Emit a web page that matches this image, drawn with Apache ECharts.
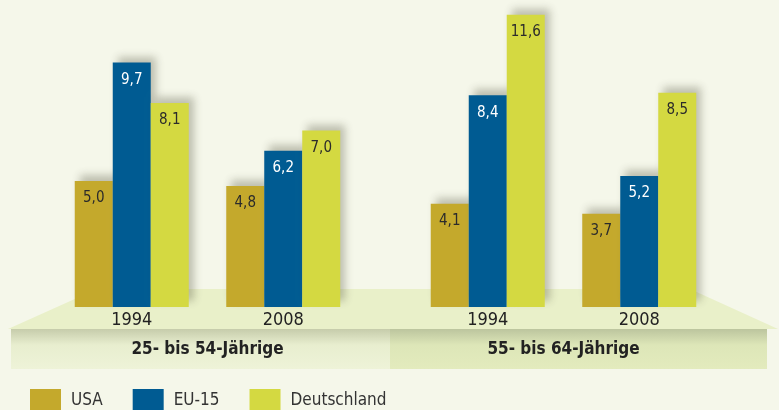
<!DOCTYPE html>
<html>
<head>
<meta charset="utf-8">
<script src="https://cdn.jsdelivr.net/npm/echarts@6/dist/echarts.min.js"></script>
<style>
html,body{margin:0;padding:0;background:#f5f7ea;}
#c{width:779px;height:410px;}
</style>
</head>
<body>
<div id="c"></div>
<script>
var years = ['1994', '2008'];
var groups = ['25- bis 54-Jährige', '55- bis 64-Jährige'];
var seriesNames = ['USA', 'EU-15', 'Deutschland'];
var usaYoung = [5.0, 4.8];
var euYoung = [9.7, 6.2];
var deYoung = [8.1, 7.0];
var usaOld = [4.1, 3.7];
var euOld = [8.4, 5.2];
var deOld = [11.6, 8.5];

var colors = ['#c4a92c', '#005b92', '#d4d941'];
var labelColors = ['#2b2b2b', '#ffffff', '#2b2b2b'];
var FONT = "'DejaVu Sans Condensed', 'Liberation Sans Narrow', 'Open Sans', sans-serif";

var chart = echarts.init(document.getElementById('c'));

function fmt(p) { return p.value.toFixed(1).replace('.', ','); }

function makeSeries(name, idx, data, gridIdx) {
  return {
    type: 'bar',
    name: name,
    data: data,
    xAxisIndex: gridIdx * 2,
    yAxisIndex: gridIdx,
    barWidth: 38,
    barGap: '0%',
    z: 5,
    itemStyle: {
      color: colors[idx],
      shadowColor: 'rgba(70,70,50,0.32)',
      shadowBlur: 8,
      shadowOffsetX: 5,
      shadowOffsetY: -6
    },
    label: {
      show: true,
      position: 'insideTop',
      distance: 10,
      formatter: fmt,
      color: labelColors[idx],
      fontSize: 15,
      fontFamily: FONT
    },
    emphasis: { disabled: true }
  };
}

var gridLefts = [56, 412];
var grids = gridLefts.map(function (l) {
  return { left: l, width: 303, top: 4.6, height: 302.4 };
});

var xAxes = [];
var yAxes = [];
[0, 1].forEach(function (g) {
  xAxes.push({
    type: 'category', gridIndex: g, data: years,
    axisLine: { show: false }, axisTick: { show: false },
    axisLabel: { margin: 4, fontSize: 18, color: '#222', fontFamily: FONT }
  });
  xAxes.push({
    type: 'category', gridIndex: g, data: [groups[g]], position: 'bottom', offset: 30,
    axisLine: { show: false }, axisTick: { show: false },
    axisLabel: { margin: 4, fontSize: 17, fontWeight: 'bold', color: '#222', fontFamily: FONT }
  });
  yAxes.push({
    type: 'value', gridIndex: g, min: 0, max: 12, show: false,
    splitLine: { show: false }
  });
});

var series = [
  makeSeries(seriesNames[0], 0, usaYoung, 0),
  makeSeries(seriesNames[1], 1, euYoung, 0),
  makeSeries(seriesNames[2], 2, deYoung, 0),
  makeSeries(seriesNames[0], 0, usaOld, 1),
  makeSeries(seriesNames[1], 1, euOld, 1),
  makeSeries(seriesNames[2], 2, deOld, 1)
];

chart.setOption({
  backgroundColor: '#f5f7ea',
  animation: false,
  grid: grids,
  xAxis: xAxes,
  yAxis: yAxes,
  legend: {
    data: seriesNames,
    left: 30, top: 389,
    padding: 0,
    itemWidth: 31, itemHeight: 24,
    itemGap: 30,
    icon: 'rect',
    selectedMode: false,
    textStyle: { fontSize: 17, color: '#333', fontFamily: FONT, padding: [0, 0, 0, 5] }
  },
  graphic: [
    {
      type: 'polygon', z: 0, silent: true,
      shape: { points: [[97, 289], [690, 289], [778, 329], [8, 329]] },
      style: { fill: '#e9f0c9' }
    },
    {
      type: 'rect', z: 0, silent: true,
      shape: { x: 11, y: 329, width: 379, height: 40 },
      style: {
        fill: new echarts.graphic.LinearGradient(0, 0, 0, 1, [
          { offset: 0, color: '#c6ccab' },
          { offset: 0.4, color: '#e8eecf' },
          { offset: 1, color: '#eef3d8' }
        ])
      }
    },
    {
      type: 'rect', z: 0, silent: true,
      shape: { x: 390, y: 329, width: 377, height: 40 },
      style: {
        fill: new echarts.graphic.LinearGradient(0, 0, 0, 1, [
          { offset: 0, color: '#bcc59e' },
          { offset: 0.4, color: '#dde6b8' },
          { offset: 1, color: '#e3ebbd' }
        ])
      }
    }
  ],
  series: series
});
</script>
</body>
</html>
